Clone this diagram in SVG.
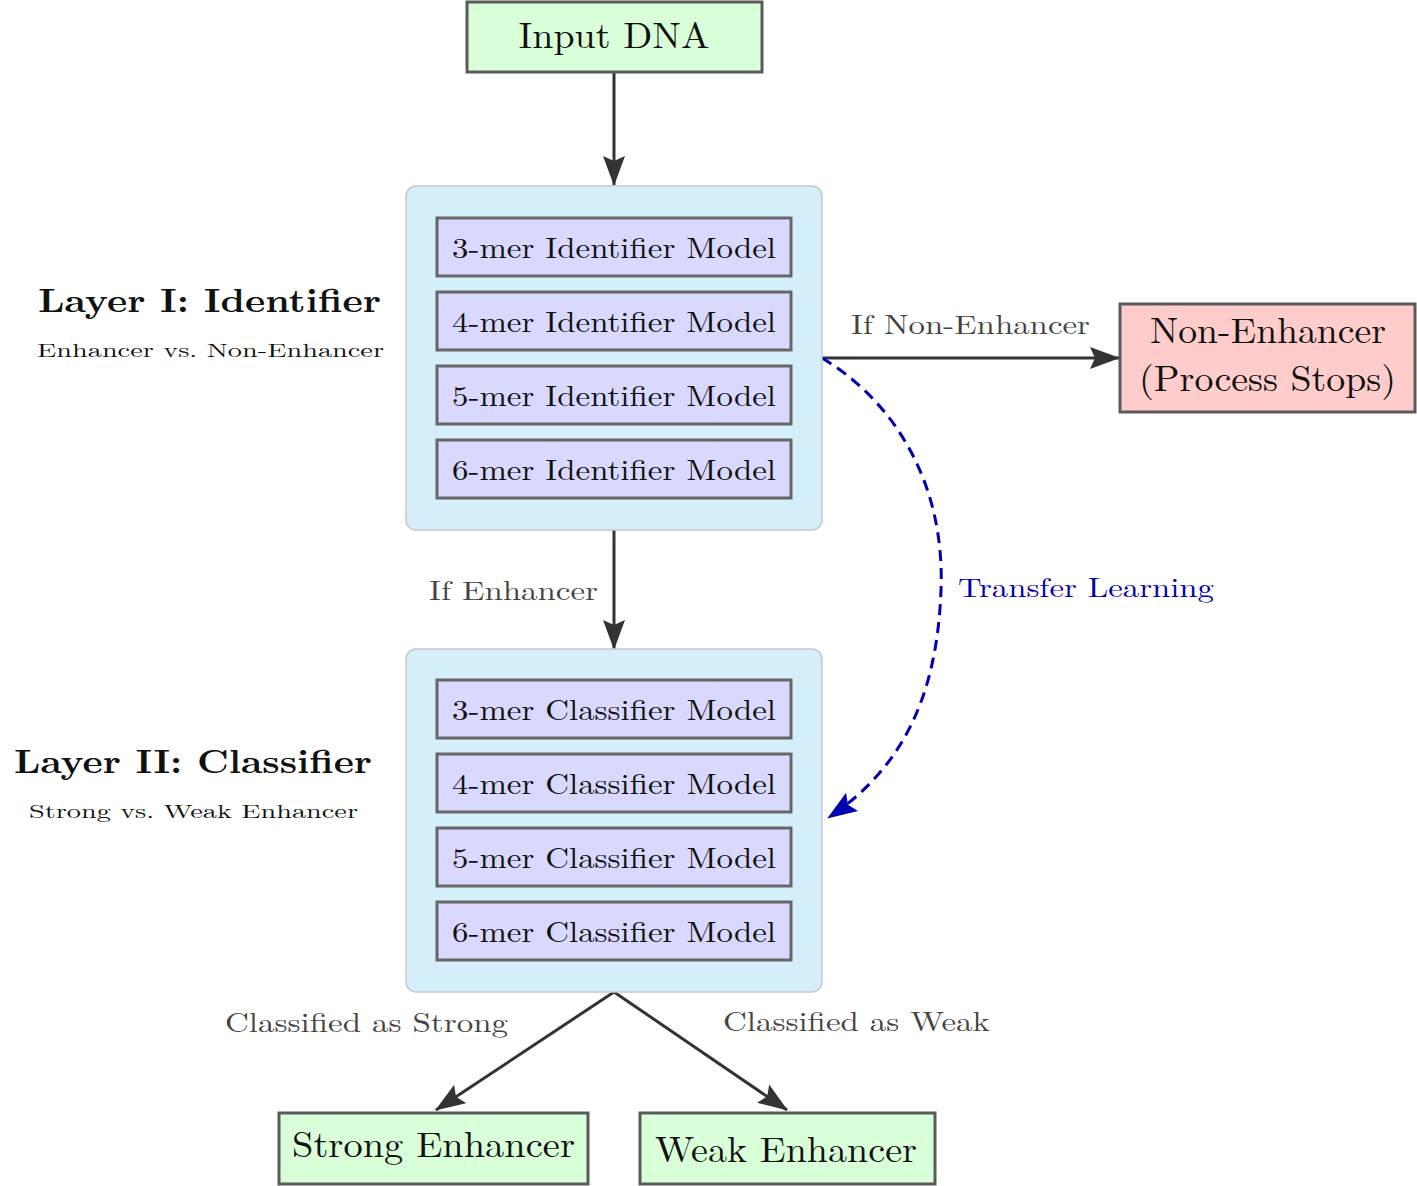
<svg xmlns="http://www.w3.org/2000/svg" width="1417" height="1186" viewBox="0 0 1417 1186">
<defs>
<style>
text{font-family:"Latin Modern Roman","CMU Serif","Liberation Serif","DejaVu Serif",serif;}
.box{stroke:#5a5a5a;stroke-width:3;}
.green{fill:#d9ffd9;}
.red{fill:#ffcccc;}
.model{fill:#d9d9ff;stroke:#666;stroke-width:3;}
.cont{fill:#d4eefa;stroke:#c8c8c8;stroke-width:1.5;}
.big{font-size:36px;fill:#111;text-anchor:middle;}
.mt{font-size:28.5px;fill:#111;text-anchor:middle;}
.lbl{font-size:27px;fill:#444;text-anchor:middle;}
.head{font-size:33px;font-weight:bold;fill:#111;text-anchor:middle;}
.sub{font-size:19px;fill:#111;text-anchor:middle;}
.conn{stroke:#333;stroke-width:3;fill:none;}
.tl{stroke:#0000b0;stroke-width:3;fill:none;stroke-dasharray:11 7;}
</style>
<marker id="ah" viewBox="0 0 30 22" refX="29" refY="11" markerWidth="30" markerHeight="22" markerUnits="userSpaceOnUse" orient="auto">
<path d="M0,0 L30,11 L0,22 L5,11 z" fill="#333"/>
</marker>
<marker id="ahb" viewBox="0 0 30 22" refX="29" refY="11" markerWidth="30" markerHeight="22" markerUnits="userSpaceOnUse" orient="auto">
<path d="M0,0 L30,11 L0,22 L5,11 z" fill="#0000b0"/>
</marker>
</defs>
<rect width="1417" height="1186" fill="#fff"/>

<g id="connectors">
<line class="conn" x1="614" y1="72" x2="614" y2="185" marker-end="url(#ah)"/>
<line class="conn" x1="614" y1="530" x2="614" y2="649" marker-end="url(#ah)"/>
<line class="conn" x1="822" y1="358" x2="1119" y2="358" marker-end="url(#ah)"/>
<path class="tl" d="M822,358 C900,405 945,490 941,590 C937,700 900,770 828,818" marker-end="url(#ahb)"/>
<line class="conn" x1="614" y1="992" x2="436" y2="1110" marker-end="url(#ah)"/>
<line class="conn" x1="614" y1="992" x2="787" y2="1110" marker-end="url(#ah)"/>
<text class="lbl" x="970.5" y="334" textLength="239" lengthAdjust="spacingAndGlyphs">If Non-Enhancer</text>
<text class="lbl" x="513.5" y="600" textLength="169" lengthAdjust="spacingAndGlyphs">If Enhancer</text>
<text class="lbl" x="1086" y="597" style="fill:#0000b0" textLength="256" lengthAdjust="spacingAndGlyphs">Transfer Learning</text>
<text class="lbl" x="366.5" y="1032" textLength="283" lengthAdjust="spacingAndGlyphs">Classified as Strong</text>
<text class="lbl" x="856.5" y="1031" textLength="267" lengthAdjust="spacingAndGlyphs">Classified as Weak</text>
</g>

<g id="input-dna">
<rect class="box green" x="467" y="2" width="295" height="70"/>
<text class="big" x="614" y="48" textLength="191" lengthAdjust="spacingAndGlyphs">Input DNA</text>
</g>

<g id="layer1-label">
<text class="head" x="209.5" y="312" textLength="343" lengthAdjust="spacingAndGlyphs">Layer I: Identifier</text>
<text class="sub" x="210.5" y="357" textLength="347" lengthAdjust="spacingAndGlyphs">Enhancer vs. Non-Enhancer</text>
</g>

<g id="layer1">
<rect class="cont" x="406" y="186" width="416" height="344" rx="10"/>
<g id="id3"><rect class="model" x="437" y="218" width="354" height="58"/><text class="mt" x="614" y="258" textLength="324" lengthAdjust="spacingAndGlyphs">3-mer Identifier Model</text></g>
<g id="id4"><rect class="model" x="437" y="292" width="354" height="58"/><text class="mt" x="614" y="332" textLength="324" lengthAdjust="spacingAndGlyphs">4-mer Identifier Model</text></g>
<g id="id5"><rect class="model" x="437" y="366" width="354" height="58"/><text class="mt" x="614" y="406" textLength="324" lengthAdjust="spacingAndGlyphs">5-mer Identifier Model</text></g>
<g id="id6"><rect class="model" x="437" y="440" width="354" height="58"/><text class="mt" x="614" y="480" textLength="324" lengthAdjust="spacingAndGlyphs">6-mer Identifier Model</text></g>
</g>

<g id="non-enhancer">
<rect class="box red" x="1120" y="304" width="295" height="108"/>
<text class="big" x="1268" y="343" textLength="236" lengthAdjust="spacingAndGlyphs">Non-Enhancer</text>
<text class="big" x="1267.5" y="391" textLength="257" lengthAdjust="spacingAndGlyphs">(Process Stops)</text>
</g>

<g id="layer2-label">
<text class="head" x="193" y="773" textLength="358" lengthAdjust="spacingAndGlyphs">Layer II: Classifier</text>
<text class="sub" x="193.5" y="818" textLength="329" lengthAdjust="spacingAndGlyphs">Strong vs. Weak Enhancer</text>
</g>

<g id="layer2">
<rect class="cont" x="406" y="649" width="416" height="343" rx="10"/>
<g id="cl3"><rect class="model" x="437" y="680" width="354" height="58"/><text class="mt" x="614" y="720" textLength="324" lengthAdjust="spacingAndGlyphs">3-mer Classifier Model</text></g>
<g id="cl4"><rect class="model" x="437" y="754" width="354" height="58"/><text class="mt" x="614" y="794" textLength="324" lengthAdjust="spacingAndGlyphs">4-mer Classifier Model</text></g>
<g id="cl5"><rect class="model" x="437" y="828" width="354" height="58"/><text class="mt" x="614" y="868" textLength="324" lengthAdjust="spacingAndGlyphs">5-mer Classifier Model</text></g>
<g id="cl6"><rect class="model" x="437" y="902" width="354" height="58"/><text class="mt" x="614" y="942" textLength="324" lengthAdjust="spacingAndGlyphs">6-mer Classifier Model</text></g>
</g>

<g id="strong">
<rect class="box green" x="279" y="1113" width="309" height="71"/>
<text class="big" x="433.5" y="1157" textLength="283" lengthAdjust="spacingAndGlyphs">Strong Enhancer</text>
</g>

<g id="weak">
<rect class="box green" x="640" y="1113" width="295" height="71"/>
<text class="big" x="786" y="1162" textLength="262" lengthAdjust="spacingAndGlyphs">Weak Enhancer</text>
</g>
</svg>
